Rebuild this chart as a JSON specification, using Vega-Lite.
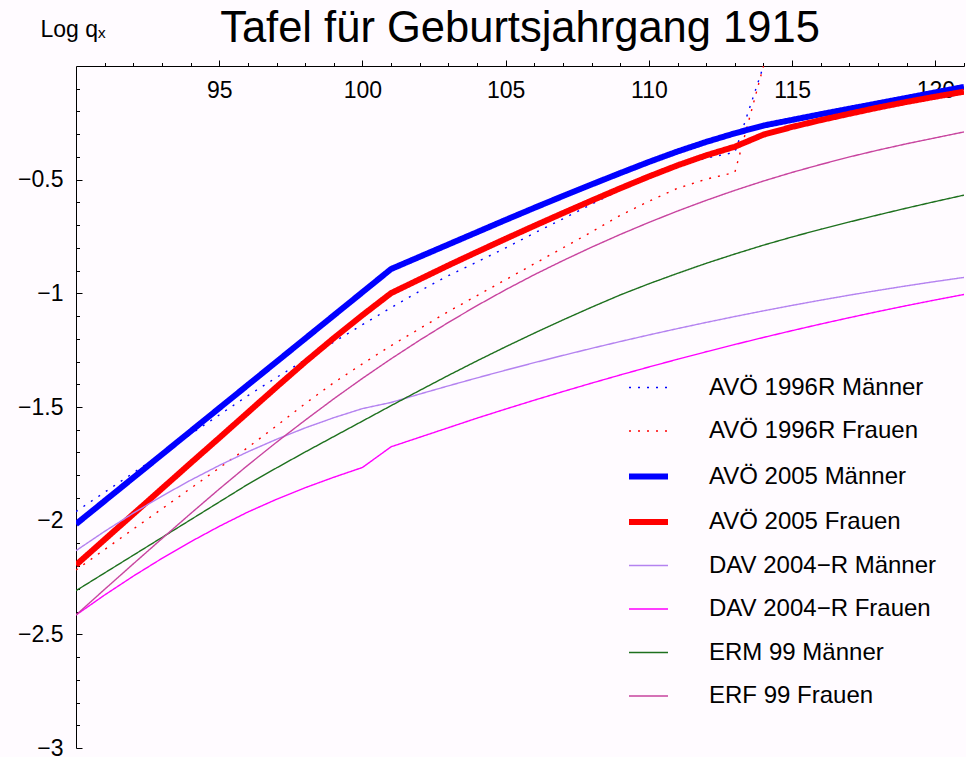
{
  "$schema": "https://vega.github.io/schema/vega-lite/v6.json",
  "width": 888,
  "height": 682,
  "autosize": {"type": "none"},
  "padding": {"left": 76, "top": 66, "right": 2, "bottom": 9},
  "background": "#fffbff",
  "title": {"text": "Tafel für Geburtsjahrgang 1915", "fontSize": 43.5, "font": "Liberation Sans", "fontWeight": "normal", "color": "black", "anchor": "middle", "offset": -33},
  "config": {
    "view": {"stroke": null},
    "font": "Liberation Sans",
    "axis": {"domainColor": "black", "tickColor": "black", "labelColor": "black", "grid": false, "labelFont": "Liberation Sans", "labelFontSize": 23, "domainWidth": 1, "tickWidth": 1, "labelFlush": false, "labelOverlap": false, "labelBound": false},
    "legend": {"orient": "none", "legendX": 550, "legendY": 301, "symbolType": "stroke", "symbolSize": 1521, "labelFontSize": 24, "labelFont": "Liberation Sans", "labelColor": "black", "labelLimit": 0, "labelOffset": 38, "padding": 0, "rowPadding": 10.5, "titlePadding": 0}
  },
  "data": {"values": [
    {"series": "AVÖ 1996R Männer", "age": 90, "logq": -1.960}, {"series": "AVÖ 1996R Männer", "age": 91, "logq": -1.875}, {"series": "AVÖ 1996R Männer", "age": 92, "logq": -1.790}, {"series": "AVÖ 1996R Männer", "age": 93, "logq": -1.705}, {"series": "AVÖ 1996R Männer", "age": 94, "logq": -1.620}, {"series": "AVÖ 1996R Männer", "age": 95, "logq": -1.535}, {"series": "AVÖ 1996R Männer", "age": 96, "logq": -1.450}, {"series": "AVÖ 1996R Männer", "age": 97, "logq": -1.370}, {"series": "AVÖ 1996R Männer", "age": 98, "logq": -1.292}, {"series": "AVÖ 1996R Männer", "age": 99, "logq": -1.214}, {"series": "AVÖ 1996R Männer", "age": 100, "logq": -1.138}, {"series": "AVÖ 1996R Männer", "age": 101, "logq": -1.063}, {"series": "AVÖ 1996R Männer", "age": 102, "logq": -0.990}, {"series": "AVÖ 1996R Männer", "age": 103, "logq": -0.922}, {"series": "AVÖ 1996R Männer", "age": 104, "logq": -0.862}, {"series": "AVÖ 1996R Männer", "age": 105, "logq": -0.800}, {"series": "AVÖ 1996R Männer", "age": 106, "logq": -0.735}, {"series": "AVÖ 1996R Männer", "age": 107, "logq": -0.672}, {"series": "AVÖ 1996R Männer", "age": 108, "logq": -0.608}, {"series": "AVÖ 1996R Männer", "age": 109, "logq": -0.545}, {"series": "AVÖ 1996R Männer", "age": 110, "logq": -0.490}, {"series": "AVÖ 1996R Männer", "age": 111, "logq": -0.440}, {"series": "AVÖ 1996R Männer", "age": 112, "logq": -0.405}, {"series": "AVÖ 1996R Männer", "age": 113, "logq": -0.380}, {"series": "AVÖ 1996R Männer", "age": 114, "logq": 0.0},
    {"series": "AVÖ 1996R Frauen", "age": 90, "logq": -2.217}, {"series": "AVÖ 1996R Frauen", "age": 91, "logq": -2.127}, {"series": "AVÖ 1996R Frauen", "age": 92, "logq": -2.037}, {"series": "AVÖ 1996R Frauen", "age": 93, "logq": -1.948}, {"series": "AVÖ 1996R Frauen", "age": 94, "logq": -1.858}, {"series": "AVÖ 1996R Frauen", "age": 95, "logq": -1.768}, {"series": "AVÖ 1996R Frauen", "age": 96, "logq": -1.678}, {"series": "AVÖ 1996R Frauen", "age": 97, "logq": -1.583}, {"series": "AVÖ 1996R Frauen", "age": 98, "logq": -1.485}, {"series": "AVÖ 1996R Frauen", "age": 99, "logq": -1.393}, {"series": "AVÖ 1996R Frauen", "age": 100, "logq": -1.310}, {"series": "AVÖ 1996R Frauen", "age": 101, "logq": -1.230}, {"series": "AVÖ 1996R Frauen", "age": 102, "logq": -1.155}, {"series": "AVÖ 1996R Frauen", "age": 103, "logq": -1.080}, {"series": "AVÖ 1996R Frauen", "age": 104, "logq": -1.010}, {"series": "AVÖ 1996R Frauen", "age": 105, "logq": -0.940}, {"series": "AVÖ 1996R Frauen", "age": 106, "logq": -0.870}, {"series": "AVÖ 1996R Frauen", "age": 107, "logq": -0.800}, {"series": "AVÖ 1996R Frauen", "age": 108, "logq": -0.730}, {"series": "AVÖ 1996R Frauen", "age": 109, "logq": -0.657}, {"series": "AVÖ 1996R Frauen", "age": 110, "logq": -0.595}, {"series": "AVÖ 1996R Frauen", "age": 111, "logq": -0.538}, {"series": "AVÖ 1996R Frauen", "age": 112, "logq": -0.498}, {"series": "AVÖ 1996R Frauen", "age": 113, "logq": -0.468}, {"series": "AVÖ 1996R Frauen", "age": 114, "logq": 0.0},
    {"series": "AVÖ 2005 Männer", "age": 90, "logq": -2.015}, {"series": "AVÖ 2005 Männer", "age": 91, "logq": -1.913}, {"series": "AVÖ 2005 Männer", "age": 92, "logq": -1.811}, {"series": "AVÖ 2005 Männer", "age": 93, "logq": -1.709}, {"series": "AVÖ 2005 Männer", "age": 94, "logq": -1.607}, {"series": "AVÖ 2005 Männer", "age": 95, "logq": -1.505}, {"series": "AVÖ 2005 Männer", "age": 96, "logq": -1.403}, {"series": "AVÖ 2005 Männer", "age": 97, "logq": -1.301}, {"series": "AVÖ 2005 Männer", "age": 98, "logq": -1.199}, {"series": "AVÖ 2005 Männer", "age": 99, "logq": -1.097}, {"series": "AVÖ 2005 Männer", "age": 100, "logq": -0.995}, {"series": "AVÖ 2005 Männer", "age": 101, "logq": -0.893}, {"series": "AVÖ 2005 Männer", "age": 102, "logq": -0.839}, {"series": "AVÖ 2005 Männer", "age": 103, "logq": -0.785}, {"series": "AVÖ 2005 Männer", "age": 104, "logq": -0.731}, {"series": "AVÖ 2005 Männer", "age": 105, "logq": -0.677}, {"series": "AVÖ 2005 Männer", "age": 106, "logq": -0.624}, {"series": "AVÖ 2005 Männer", "age": 107, "logq": -0.572}, {"series": "AVÖ 2005 Männer", "age": 108, "logq": -0.521}, {"series": "AVÖ 2005 Männer", "age": 109, "logq": -0.471}, {"series": "AVÖ 2005 Männer", "age": 110, "logq": -0.422}, {"series": "AVÖ 2005 Männer", "age": 111, "logq": -0.376}, {"series": "AVÖ 2005 Männer", "age": 112, "logq": -0.334}, {"series": "AVÖ 2005 Männer", "age": 113, "logq": -0.296}, {"series": "AVÖ 2005 Männer", "age": 114, "logq": -0.262}, {"series": "AVÖ 2005 Männer", "age": 115, "logq": -0.237}, {"series": "AVÖ 2005 Männer", "age": 116, "logq": -0.212}, {"series": "AVÖ 2005 Männer", "age": 117, "logq": -0.188}, {"series": "AVÖ 2005 Männer", "age": 118, "logq": -0.164}, {"series": "AVÖ 2005 Männer", "age": 119, "logq": -0.140}, {"series": "AVÖ 2005 Männer", "age": 120, "logq": -0.116}, {"series": "AVÖ 2005 Männer", "age": 121, "logq": -0.092},
    {"series": "AVÖ 2005 Frauen", "age": 90, "logq": -2.195}, {"series": "AVÖ 2005 Frauen", "age": 91, "logq": -2.083}, {"series": "AVÖ 2005 Frauen", "age": 92, "logq": -1.971}, {"series": "AVÖ 2005 Frauen", "age": 93, "logq": -1.859}, {"series": "AVÖ 2005 Frauen", "age": 94, "logq": -1.747}, {"series": "AVÖ 2005 Frauen", "age": 95, "logq": -1.636}, {"series": "AVÖ 2005 Frauen", "age": 96, "logq": -1.524}, {"series": "AVÖ 2005 Frauen", "age": 97, "logq": -1.412}, {"series": "AVÖ 2005 Frauen", "age": 98, "logq": -1.302}, {"series": "AVÖ 2005 Frauen", "age": 99, "logq": -1.197}, {"series": "AVÖ 2005 Frauen", "age": 100, "logq": -1.096}, {"series": "AVÖ 2005 Frauen", "age": 101, "logq": -0.999}, {"series": "AVÖ 2005 Frauen", "age": 102, "logq": -0.938}, {"series": "AVÖ 2005 Frauen", "age": 103, "logq": -0.877}, {"series": "AVÖ 2005 Frauen", "age": 104, "logq": -0.818}, {"series": "AVÖ 2005 Frauen", "age": 105, "logq": -0.760}, {"series": "AVÖ 2005 Frauen", "age": 106, "logq": -0.703}, {"series": "AVÖ 2005 Frauen", "age": 107, "logq": -0.647}, {"series": "AVÖ 2005 Frauen", "age": 108, "logq": -0.592}, {"series": "AVÖ 2005 Frauen", "age": 109, "logq": -0.538}, {"series": "AVÖ 2005 Frauen", "age": 110, "logq": -0.486}, {"series": "AVÖ 2005 Frauen", "age": 111, "logq": -0.437}, {"series": "AVÖ 2005 Frauen", "age": 112, "logq": -0.393}, {"series": "AVÖ 2005 Frauen", "age": 113, "logq": -0.355}, {"series": "AVÖ 2005 Frauen", "age": 114, "logq": -0.302}, {"series": "AVÖ 2005 Frauen", "age": 115, "logq": -0.268}, {"series": "AVÖ 2005 Frauen", "age": 116, "logq": -0.238}, {"series": "AVÖ 2005 Frauen", "age": 117, "logq": -0.210}, {"series": "AVÖ 2005 Frauen", "age": 118, "logq": -0.183}, {"series": "AVÖ 2005 Frauen", "age": 119, "logq": -0.158}, {"series": "AVÖ 2005 Frauen", "age": 120, "logq": -0.135}, {"series": "AVÖ 2005 Frauen", "age": 121, "logq": -0.113},
    {"series": "DAV 2004−R Männer", "age": 90, "logq": -2.132}, {"series": "DAV 2004−R Männer", "age": 91, "logq": -2.047}, {"series": "DAV 2004−R Männer", "age": 92, "logq": -1.967}, {"series": "DAV 2004−R Männer", "age": 93, "logq": -1.892}, {"series": "DAV 2004−R Männer", "age": 94, "logq": -1.822}, {"series": "DAV 2004−R Männer", "age": 95, "logq": -1.757}, {"series": "DAV 2004−R Männer", "age": 96, "logq": -1.697}, {"series": "DAV 2004−R Männer", "age": 97, "logq": -1.642}, {"series": "DAV 2004−R Männer", "age": 98, "logq": -1.592}, {"series": "DAV 2004−R Männer", "age": 99, "logq": -1.547}, {"series": "DAV 2004−R Männer", "age": 100, "logq": -1.507}, {"series": "DAV 2004−R Männer", "age": 101, "logq": -1.480}, {"series": "DAV 2004−R Männer", "age": 102, "logq": -1.443}, {"series": "DAV 2004−R Männer", "age": 103, "logq": -1.407}, {"series": "DAV 2004−R Männer", "age": 104, "logq": -1.372}, {"series": "DAV 2004−R Männer", "age": 105, "logq": -1.338}, {"series": "DAV 2004−R Männer", "age": 106, "logq": -1.305}, {"series": "DAV 2004−R Männer", "age": 107, "logq": -1.273}, {"series": "DAV 2004−R Männer", "age": 108, "logq": -1.242}, {"series": "DAV 2004−R Männer", "age": 109, "logq": -1.212}, {"series": "DAV 2004−R Männer", "age": 110, "logq": -1.183}, {"series": "DAV 2004−R Männer", "age": 111, "logq": -1.155}, {"series": "DAV 2004−R Männer", "age": 112, "logq": -1.128}, {"series": "DAV 2004−R Männer", "age": 113, "logq": -1.102}, {"series": "DAV 2004−R Männer", "age": 114, "logq": -1.077}, {"series": "DAV 2004−R Männer", "age": 115, "logq": -1.053}, {"series": "DAV 2004−R Männer", "age": 116, "logq": -1.030}, {"series": "DAV 2004−R Männer", "age": 117, "logq": -1.008}, {"series": "DAV 2004−R Männer", "age": 118, "logq": -0.987}, {"series": "DAV 2004−R Männer", "age": 119, "logq": -0.967}, {"series": "DAV 2004−R Männer", "age": 120, "logq": -0.948}, {"series": "DAV 2004−R Männer", "age": 121, "logq": -0.930},
    {"series": "DAV 2004−R Frauen", "age": 90, "logq": -2.415}, {"series": "DAV 2004−R Frauen", "age": 91, "logq": -2.327}, {"series": "DAV 2004−R Frauen", "age": 92, "logq": -2.244}, {"series": "DAV 2004−R Frauen", "age": 93, "logq": -2.166}, {"series": "DAV 2004−R Frauen", "age": 94, "logq": -2.093}, {"series": "DAV 2004−R Frauen", "age": 95, "logq": -2.025}, {"series": "DAV 2004−R Frauen", "age": 96, "logq": -1.962}, {"series": "DAV 2004−R Frauen", "age": 97, "logq": -1.906}, {"series": "DAV 2004−R Frauen", "age": 98, "logq": -1.855}, {"series": "DAV 2004−R Frauen", "age": 99, "logq": -1.809}, {"series": "DAV 2004−R Frauen", "age": 100, "logq": -1.766}, {"series": "DAV 2004−R Frauen", "age": 101, "logq": -1.675}, {"series": "DAV 2004−R Frauen", "age": 102, "logq": -1.633}, {"series": "DAV 2004−R Frauen", "age": 103, "logq": -1.591}, {"series": "DAV 2004−R Frauen", "age": 104, "logq": -1.549}, {"series": "DAV 2004−R Frauen", "age": 105, "logq": -1.509}, {"series": "DAV 2004−R Frauen", "age": 106, "logq": -1.470}, {"series": "DAV 2004−R Frauen", "age": 107, "logq": -1.432}, {"series": "DAV 2004−R Frauen", "age": 108, "logq": -1.395}, {"series": "DAV 2004−R Frauen", "age": 109, "logq": -1.359}, {"series": "DAV 2004−R Frauen", "age": 110, "logq": -1.324}, {"series": "DAV 2004−R Frauen", "age": 111, "logq": -1.290}, {"series": "DAV 2004−R Frauen", "age": 112, "logq": -1.257}, {"series": "DAV 2004−R Frauen", "age": 113, "logq": -1.225}, {"series": "DAV 2004−R Frauen", "age": 114, "logq": -1.194}, {"series": "DAV 2004−R Frauen", "age": 115, "logq": -1.164}, {"series": "DAV 2004−R Frauen", "age": 116, "logq": -1.135}, {"series": "DAV 2004−R Frauen", "age": 117, "logq": -1.107}, {"series": "DAV 2004−R Frauen", "age": 118, "logq": -1.080}, {"series": "DAV 2004−R Frauen", "age": 119, "logq": -1.054}, {"series": "DAV 2004−R Frauen", "age": 120, "logq": -1.029}, {"series": "DAV 2004−R Frauen", "age": 121, "logq": -1.005},
    {"series": "ERM 99 Männer", "age": 90, "logq": -2.308}, {"series": "ERM 99 Männer", "age": 91, "logq": -2.230}, {"series": "ERM 99 Männer", "age": 92, "logq": -2.152}, {"series": "ERM 99 Männer", "age": 93, "logq": -2.074}, {"series": "ERM 99 Männer", "age": 94, "logq": -1.996}, {"series": "ERM 99 Männer", "age": 95, "logq": -1.918}, {"series": "ERM 99 Männer", "age": 96, "logq": -1.840}, {"series": "ERM 99 Männer", "age": 97, "logq": -1.768}, {"series": "ERM 99 Männer", "age": 98, "logq": -1.698}, {"series": "ERM 99 Männer", "age": 99, "logq": -1.630}, {"series": "ERM 99 Männer", "age": 100, "logq": -1.562}, {"series": "ERM 99 Männer", "age": 101, "logq": -1.494}, {"series": "ERM 99 Männer", "age": 102, "logq": -1.427}, {"series": "ERM 99 Männer", "age": 103, "logq": -1.361}, {"series": "ERM 99 Männer", "age": 104, "logq": -1.297}, {"series": "ERM 99 Männer", "age": 105, "logq": -1.235}, {"series": "ERM 99 Männer", "age": 106, "logq": -1.175}, {"series": "ERM 99 Männer", "age": 107, "logq": -1.117}, {"series": "ERM 99 Männer", "age": 108, "logq": -1.061}, {"series": "ERM 99 Männer", "age": 109, "logq": -1.007}, {"series": "ERM 99 Männer", "age": 110, "logq": -0.958}, {"series": "ERM 99 Männer", "age": 111, "logq": -0.912}, {"series": "ERM 99 Männer", "age": 112, "logq": -0.868}, {"series": "ERM 99 Männer", "age": 113, "logq": -0.827}, {"series": "ERM 99 Männer", "age": 114, "logq": -0.788}, {"series": "ERM 99 Männer", "age": 115, "logq": -0.752}, {"series": "ERM 99 Männer", "age": 116, "logq": -0.718}, {"series": "ERM 99 Männer", "age": 117, "logq": -0.686}, {"series": "ERM 99 Männer", "age": 118, "logq": -0.655}, {"series": "ERM 99 Männer", "age": 119, "logq": -0.625}, {"series": "ERM 99 Männer", "age": 120, "logq": -0.596}, {"series": "ERM 99 Männer", "age": 121, "logq": -0.568},
    {"series": "ERF 99 Frauen", "age": 90, "logq": -2.415}, {"series": "ERF 99 Frauen", "age": 91, "logq": -2.302}, {"series": "ERF 99 Frauen", "age": 92, "logq": -2.190}, {"series": "ERF 99 Frauen", "age": 93, "logq": -2.079}, {"series": "ERF 99 Frauen", "age": 94, "logq": -1.969}, {"series": "ERF 99 Frauen", "age": 95, "logq": -1.861}, {"series": "ERF 99 Frauen", "age": 96, "logq": -1.756}, {"series": "ERF 99 Frauen", "age": 97, "logq": -1.655}, {"series": "ERF 99 Frauen", "age": 98, "logq": -1.558}, {"series": "ERF 99 Frauen", "age": 99, "logq": -1.464}, {"series": "ERF 99 Frauen", "age": 100, "logq": -1.374}, {"series": "ERF 99 Frauen", "age": 101, "logq": -1.288}, {"series": "ERF 99 Frauen", "age": 102, "logq": -1.206}, {"series": "ERF 99 Frauen", "age": 103, "logq": -1.128}, {"series": "ERF 99 Frauen", "age": 104, "logq": -1.054}, {"series": "ERF 99 Frauen", "age": 105, "logq": -0.984}, {"series": "ERF 99 Frauen", "age": 106, "logq": -0.918}, {"series": "ERF 99 Frauen", "age": 107, "logq": -0.856}, {"series": "ERF 99 Frauen", "age": 108, "logq": -0.797}, {"series": "ERF 99 Frauen", "age": 109, "logq": -0.741}, {"series": "ERF 99 Frauen", "age": 110, "logq": -0.688}, {"series": "ERF 99 Frauen", "age": 111, "logq": -0.638}, {"series": "ERF 99 Frauen", "age": 112, "logq": -0.591}, {"series": "ERF 99 Frauen", "age": 113, "logq": -0.547}, {"series": "ERF 99 Frauen", "age": 114, "logq": -0.506}, {"series": "ERF 99 Frauen", "age": 115, "logq": -0.468}, {"series": "ERF 99 Frauen", "age": 116, "logq": -0.433}, {"series": "ERF 99 Frauen", "age": 117, "logq": -0.400}, {"series": "ERF 99 Frauen", "age": 118, "logq": -0.370}, {"series": "ERF 99 Frauen", "age": 119, "logq": -0.342}, {"series": "ERF 99 Frauen", "age": 120, "logq": -0.316}, {"series": "ERF 99 Frauen", "age": 121, "logq": -0.290}
  ]},
  "layer": [
    {
      "mark": {"type": "line", "clip": true},
      "encoding": {
        "x": {"field": "age", "type": "quantitative", "scale": {"domain": [90, 121], "nice": false, "zero": false},
              "axis": {"orient": "top", "values": [95, 100, 105, 110, 115, 120], "tickSize": 6, "labelPadding": -37, "labelBaseline": "alphabetic", "title": null}},
        "y": {"field": "logq", "type": "quantitative", "scale": {"domain": [-3, 0], "nice": false, "zero": false},
              "axis": {"orient": "left", "values": [-3, -2.5, -2, -1.5, -1, -0.5], "format": "~g", "tickSize": -6, "labelPadding": 19, "labelAlign": "right", "labelBaseline": "middle",
                       "title": "Log qₓ", "titleAngle": 0, "titleAlign": "left", "titleBaseline": "alphabetic", "titleX": -36, "titleY": -30, "titleFontSize": 23, "titleFontWeight": "normal", "titleFont": "Liberation Sans", "titleColor": "black"}},
        "color": {"field": "series", "type": "nominal", "legend": {"title": null},
                  "scale": {"domain": ["AVÖ 1996R Männer", "AVÖ 1996R Frauen", "AVÖ 2005 Männer", "AVÖ 2005 Frauen", "DAV 2004−R Männer", "DAV 2004−R Frauen", "ERM 99 Männer", "ERF 99 Frauen"],
                            "range": ["#0000ff", "#ff0000", "#0000ff", "#ff0000", "#b482f0", "#ff00ff", "#1e701e", "#c8449f"]}},
        "strokeDash": {"field": "series", "type": "nominal", "legend": {"title": null},
                  "scale": {"domain": ["AVÖ 1996R Männer", "AVÖ 1996R Frauen", "AVÖ 2005 Männer", "AVÖ 2005 Frauen", "DAV 2004−R Männer", "DAV 2004−R Frauen", "ERM 99 Männer", "ERF 99 Frauen"],
                            "range": [[2, 7], [2, 7], [1, 0], [1, 0], [1, 0], [1, 0], [1, 0], [1, 0]]}},
        "strokeWidth": {"field": "series", "type": "nominal", "legend": {"title": null},
                  "scale": {"type": "ordinal", "domain": ["AVÖ 1996R Männer", "AVÖ 1996R Frauen", "AVÖ 2005 Männer", "AVÖ 2005 Frauen", "DAV 2004−R Männer", "DAV 2004−R Frauen", "ERM 99 Männer", "ERF 99 Frauen"],
                            "range": [1.4, 1.4, 6, 6, 1.4, 1.4, 1.4, 1.4]}}
      }
    },
    {
      "mark": {"type": "line", "opacity": 0},
      "encoding": {
        "x": {"field": "age", "type": "quantitative",
              "axis": {"orient": "top", "values": [91, 92, 93, 94, 95, 96, 97, 98, 99, 100, 101, 102, 103, 104, 105, 106, 107, 108, 109, 110, 111, 112, 113, 114, 115, 116, 117, 118, 119, 120, 121], "tickSize": 3.5, "labels": false, "domain": false, "title": null}},
        "y": {"field": "logq", "type": "quantitative",
              "axis": {"orient": "left", "values": [-2.9, -2.8, -2.7, -2.6, -2.4, -2.3, -2.2, -2.1, -1.9, -1.8, -1.7, -1.6, -1.4, -1.3, -1.2, -1.1, -0.9, -0.8, -0.7, -0.6, -0.4, -0.3, -0.2, -0.1], "tickSize": -3.5, "labels": false, "domain": false, "title": null}},
        "detail": {"field": "series", "type": "nominal"}
      }
    }
  ],
  "resolve": {"axis": {"x": "independent", "y": "independent"}}
}
